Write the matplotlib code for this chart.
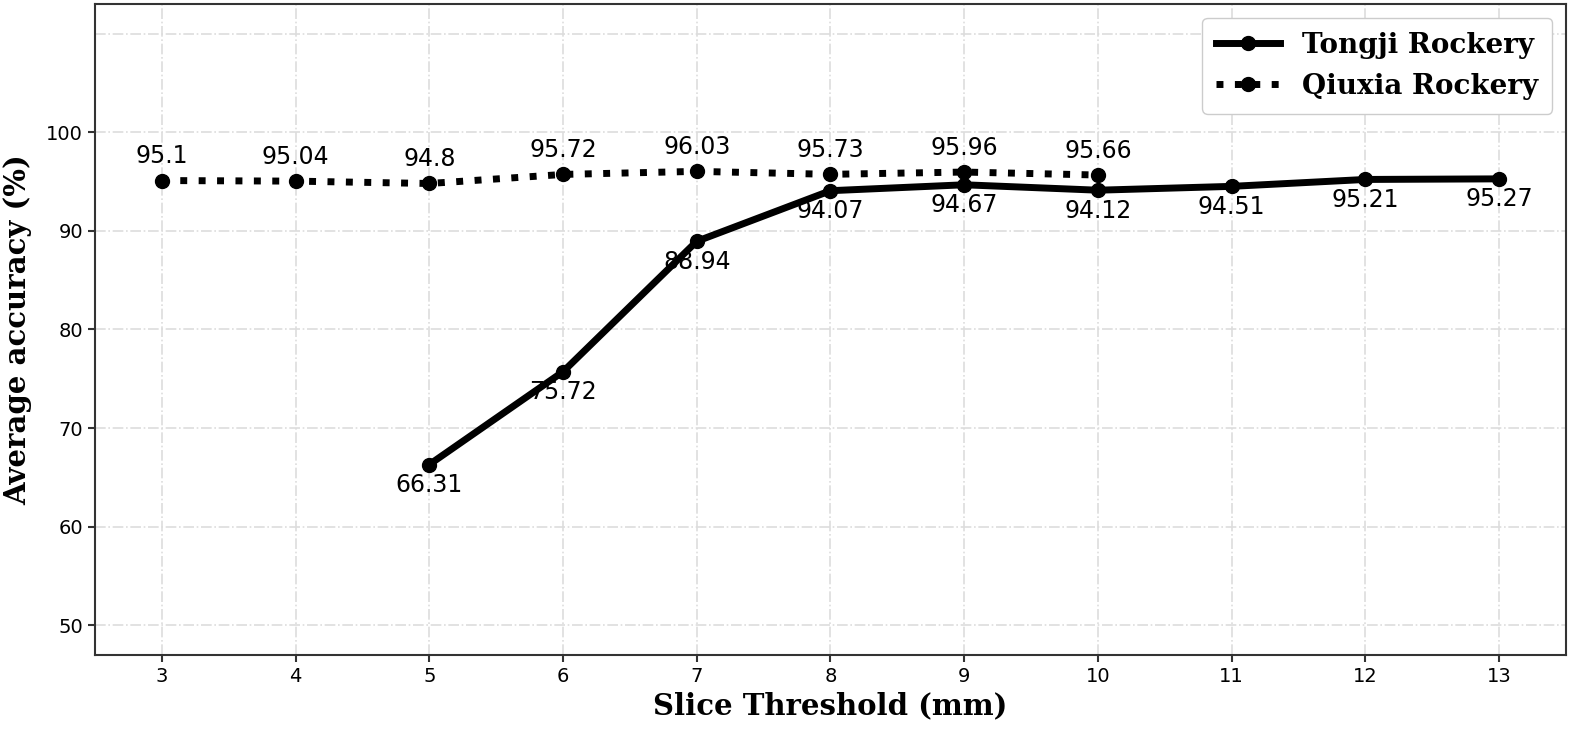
import matplotlib
matplotlib.use('Agg')
import matplotlib.pyplot as plt

# slice threshold (mm) and accuracy (%)
x_tongji = [5, 6, 7, 8, 9, 10, 11, 12, 13]
y_tongji = [66.31, 75.72, 88.94, 94.07, 94.67, 94.12, 94.51, 95.21, 95.27]
x_qiuxia = [3, 4, 5, 6, 7, 8, 9, 10]
y_qiuxia = [95.1, 95.04, 94.8, 95.72, 96.03, 95.73, 95.96, 95.66]

fig = plt.figure(figsize=(15.94, 7.34), dpi=100)
ax = fig.add_axes([0.0596, 0.1076, 0.9228, 0.887])

ax.plot(x_tongji, y_tongji, color='black', linestyle='-', linewidth=5,
        marker='o', markersize=10, label='Tongji Rockery')
ax.plot(x_qiuxia, y_qiuxia, color='black', linestyle=':', linewidth=5,
        marker='o', markersize=10, label='Qiuxia Rockery')

for xv, yv in zip(x_tongji, y_tongji):
    ax.annotate(f"{yv:g}", (xv, yv), xytext=(0, -6), textcoords='offset points',
                ha='center', va='top', fontsize=17)
for xv, yv in zip(x_qiuxia, y_qiuxia):
    ax.annotate(f"{yv:g}", (xv, yv), xytext=(0, 9), textcoords='offset points',
                ha='center', va='bottom', fontsize=17)

ax.set_xlim(2.5, 13.5)
ax.set_ylim(47, 113)
ax.set_xticks(range(3, 14))
ax.set_yticks(range(50, 101, 10))
ax.set_yticks([110], minor=True)
ax.tick_params(which='minor', length=0)
ax.tick_params(which='major', labelsize=14, length=5, width=1.5, color='#333333')
ax.grid(True, which='both', linestyle='-.', color='#dddddd', linewidth=1.2)
ax.set_axisbelow(True)
for s in ax.spines.values():
    s.set_linewidth(1.5)
    s.set_color('#333333')

ax.set_xlabel("Slice Threshold (mm)", fontsize=21, fontweight='bold', family='DejaVu Serif')
ax.set_ylabel("Average accuracy (%)", fontsize=21, fontweight='bold', family='DejaVu Serif',
              labelpad=10)

ax.legend(loc='upper right', prop={'family': 'DejaVu Serif', 'weight': 'bold', 'size': 20},
          handlelength=2.3, borderpad=0.5, framealpha=1, edgecolor='#cccccc')

fig.savefig('out.png', dpi=100)
